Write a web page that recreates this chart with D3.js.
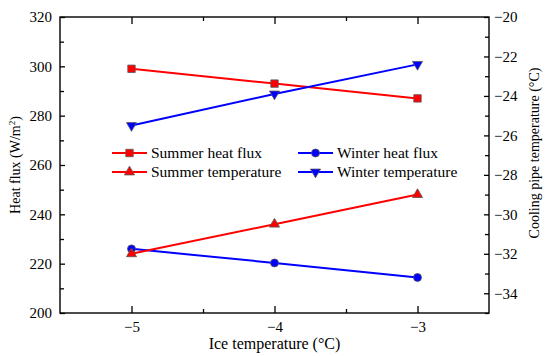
<!DOCTYPE html>
<html>
<head>
<meta charset="utf-8">
<script src="https://cdn.jsdelivr.net/npm/d3@7"></script>
<style>
  html, body { margin: 0; padding: 0; background: #fff; }
  svg text { font-family: "Liberation Serif", "Times New Roman", serif; fill: #000; }
</style>
</head>
<body>
<div id="chart"></div>
<script>
// ice temperature (°C) on x
const iceTemps = [-5, -4, -3];
// left axis, heat flux (W/m2)
const summerHeatFlux = [299, 293, 287];
const winterHeatFlux = [226, 220.3, 214.4];
// right axis, cooling pipe temperature (°C)
const summerPipeTemp = [-32, -30.5, -29];
const winterPipeTemp = [-25.5, -23.9, -22.4];

const xTicks = [-5, -4, -3];
const leftTicks = [200, 220, 240, 260, 280, 300, 320];
const rightTicks = [-34, -32, -30, -28, -26, -24, -22, -20];

const W = 550, H = 356;
const m = { left: 60, right: 61, top: 17, bottom: 43 };

const fmt = v => String(v).replace('-', '\u2212');

const svg = d3.select('#chart').append('svg')
  .attr('width', W).attr('height', H);

const x = d3.scaleLinear().domain([-5.5, -2.5]).range([m.left, W - m.right]);
const yL = d3.scaleLinear().domain([200, 320]).range([H - m.bottom, m.top]);
const yR = d3.scaleLinear().domain([-35, -20]).range([H - m.bottom, m.top]);

const x0 = m.left, x1 = W - m.right, y0 = H - m.bottom, y1 = m.top;

// ticks (all pointing inward)
function styleAxis(g) {
  g.select('.domain').remove();
  g.selectAll('.tick line').attr('stroke', '#000').attr('stroke-width', 1.3);
  g.selectAll('.tick text').attr('font-size', 15);
}

// bottom
svg.append('g').attr('transform', `translate(0,${y0})`)
  .call(d3.axisBottom(x).tickValues(xTicks).tickSize(-7).tickPadding(8.5).tickFormat(fmt))
  .call(styleAxis);
svg.append('g').attr('transform', `translate(0,${y0})`)
  .call(d3.axisBottom(x).tickValues([-4.5, -3.5]).tickSize(-4).tickFormat(''))
  .call(styleAxis);
// top
svg.append('g').attr('transform', `translate(0,${y1})`)
  .call(d3.axisTop(x).tickValues(xTicks).tickSize(-7).tickFormat(''))
  .call(styleAxis);
svg.append('g').attr('transform', `translate(0,${y1})`)
  .call(d3.axisTop(x).tickValues([-4.5, -3.5]).tickSize(-4).tickFormat(''))
  .call(styleAxis);
// left
svg.append('g').attr('transform', `translate(${x0},0)`)
  .call(d3.axisLeft(yL).tickValues(leftTicks).tickSize(-5).tickPadding(8).tickFormat(fmt))
  .call(styleAxis);
svg.append('g').attr('transform', `translate(${x0},0)`)
  .call(d3.axisLeft(yL).tickValues(d3.range(210, 320, 20)).tickSize(-4).tickFormat(''))
  .call(styleAxis);
// right
svg.append('g').attr('transform', `translate(${x1},0)`)
  .call(d3.axisRight(yR).tickValues(rightTicks).tickSize(-5).tickPadding(5).tickFormat(fmt))
  .call(styleAxis);
svg.append('g').attr('transform', `translate(${x1},0)`)
  .call(d3.axisRight(yR).tickValues(d3.range(-35, -20, 2)).tickSize(-4).tickFormat(''))
  .call(styleAxis);

// frame
svg.append('rect')
  .attr('x', x0).attr('y', y1).attr('width', x1 - x0).attr('height', y0 - y1)
  .attr('fill', 'none').attr('stroke', '#000').attr('stroke-width', 1.4);

// axis titles
svg.append('text')
  .attr('x', (x0 + x1) / 2).attr('y', 348.5)
  .attr('text-anchor', 'middle').attr('font-size', 16)
  .text('Ice temperature (\u00B0C)');

const lt = svg.append('text')
  .attr('transform', `translate(20,${(y0 + y1) / 2}) rotate(-90)`)
  .attr('text-anchor', 'middle').attr('font-size', 14);
lt.append('tspan').text('Heat flux (W/m');
lt.append('tspan').attr('font-size', 9).attr('dy', -5).text('2');
lt.append('tspan').attr('dy', 5).text(')');

svg.append('text')
  .attr('transform', `translate(539,153) rotate(-90)`)
  .attr('text-anchor', 'middle').attr('font-size', 14)
  .text('Cooling pipe temperature (\u00B0C)');

// series
const series = [
  { name: 'Summer heat flux', vals: summerHeatFlux, y: yL, color: '#ff0000', sym: d3.symbolSquare, size: 55, rot: 0 },
  { name: 'Winter heat flux', vals: winterHeatFlux, y: yL, color: '#0000ff', sym: d3.symbolCircle, size: 50, rot: 0 },
  { name: 'Summer temperature', vals: summerPipeTemp, y: yR, color: '#ff0000', sym: d3.symbolTriangle, size: 44, rot: 0 },
  { name: 'Winter temperature', vals: winterPipeTemp, y: yR, color: '#0000ff', sym: d3.symbolTriangle, size: 44, rot: 180 }
];

series.forEach(s => {
  const pts = iceTemps.map((t, i) => [x(t), s.y(s.vals[i])]);
  svg.append('path')
    .attr('d', d3.line()(pts))
    .attr('fill', 'none').attr('stroke', s.color).attr('stroke-width', 2);
  svg.selectAll(null).data(pts).join('path')
    .attr('d', d3.symbol(s.sym, s.size)())
    .attr('transform', d => `translate(${d[0]},${d[1]}) rotate(${s.rot})`)
    .attr('fill', s.color).attr('stroke', '#555').attr('stroke-width', 0.8);
});

// legend
const legPos = [[112, 153], [298, 153], [112, 172], [298, 172]];
series.forEach((s, i) => {
  const [lx, ly] = legPos[i];
  const g = svg.append('g').attr('transform', `translate(${lx},${ly})`);
  g.append('line').attr('x1', 0).attr('x2', 35).attr('y1', 0).attr('y2', 0)
    .attr('stroke', s.color).attr('stroke-width', 2);
  g.append('path').attr('d', d3.symbol(s.sym, s.size)())
    .attr('transform', `translate(17.5,0) rotate(${s.rot})`)
    .attr('fill', s.color).attr('stroke', '#555').attr('stroke-width', 0.8);
  g.append('text').attr('x', 39).attr('y', 5).attr('font-size', 15.5).text(s.name);
});
</script>
</body>
</html>
